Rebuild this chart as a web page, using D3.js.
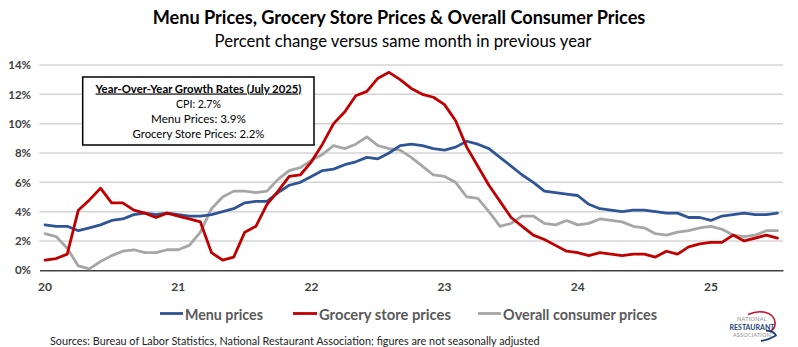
<!DOCTYPE html>
<html>
<head>
<meta charset="utf-8">
<script src="https://cdn.jsdelivr.net/npm/d3@7"></script>
<style>
  html, body { margin: 0; padding: 0; background: #ffffff; }
  svg { display: block; }
  text { font-family: Lato, "Open Sans", "DejaVu Sans", sans-serif; }
</style>
</head>
<body>
<svg id="chart" width="798" height="347"></svg>
<script>
// ---------- DATA (Jan 2020 – Jul 2025, monthly, % change y/y) ----------
const yearLabels = ["20", "21", "22", "23", "24", "25"];
const menuPrices = [
  3.1, 3.0, 3.0, 2.7, 2.9, 3.1, 3.4, 3.5, 3.8, 3.9, 3.8, 3.9,
  3.8, 3.7, 3.7, 3.8, 4.0, 4.2, 4.6, 4.7, 4.7, 5.3, 5.8, 6.0,
  6.4, 6.8, 6.9, 7.2, 7.4, 7.7, 7.6, 8.0, 8.5, 8.6, 8.5, 8.3,
  8.2, 8.4, 8.8, 8.6, 8.3, 7.7, 7.1, 6.5, 6.0, 5.4, 5.3, 5.2,
  5.1, 4.5, 4.2, 4.1, 4.0, 4.1, 4.1, 4.0, 3.9, 3.9, 3.6, 3.6,
  3.4, 3.7, 3.8, 3.9, 3.8, 3.8, 3.9
];
const groceryPrices = [
  0.7, 0.8, 1.1, 4.1, 4.8, 5.6, 4.6, 4.6, 4.1, 3.9, 3.6, 3.9,
  3.7, 3.5, 3.3, 1.2, 0.7, 0.9, 2.6, 3.0, 4.5, 5.4, 6.4, 6.5,
  7.4, 8.6, 10.0, 10.8, 11.9, 12.2, 13.1, 13.5, 13.0, 12.4, 12.0, 11.8,
  11.3, 10.2, 8.4, 7.1, 5.8, 4.7, 3.6, 3.0, 2.4, 2.1, 1.7, 1.3,
  1.2, 1.0, 1.2, 1.1, 1.0, 1.1, 1.1, 0.9, 1.3, 1.1, 1.6, 1.8,
  1.9, 1.9, 2.4, 2.0, 2.2, 2.4, 2.2
];
const consumerPrices = [
  2.5, 2.3, 1.5, 0.3, 0.1, 0.6, 1.0, 1.3, 1.4, 1.2, 1.2, 1.4,
  1.4, 1.7, 2.6, 4.2, 5.0, 5.4, 5.4, 5.3, 5.4, 6.2, 6.8, 7.0,
  7.5, 7.9, 8.5, 8.3, 8.6, 9.1, 8.5, 8.3, 8.2, 7.7, 7.1, 6.5,
  6.4, 6.0, 5.0, 4.9, 4.0, 3.0, 3.2, 3.7, 3.7, 3.2, 3.1, 3.4,
  3.1, 3.2, 3.5, 3.4, 3.3, 3.0, 2.9, 2.5, 2.4, 2.6, 2.7, 2.9,
  3.0, 2.8, 2.4, 2.3, 2.4, 2.7, 2.7
];
const yTicks = [0, 2, 4, 6, 8, 10, 12, 14];
const seriesNames = ["Menu prices", "Grocery store prices", "Overall consumer prices"];
const seriesColors = ["#2E5597", "#C00000", "#A6A6A6"];
const boxTitle = "Year-Over-Year Growth Rates (July 2025)";
const boxLines = ["CPI: 2.7%", "Menu Prices: 3.9%", "Grocery Store Prices: 2.2%"];

// ---------- LAYOUT ----------
const svg = d3.select("#chart");
const plotLeft = 39.5, plotRight = 783;
const n = menuPrices.length;
const x = d3.scaleBand().domain(d3.range(n)).range([plotLeft, plotRight]).paddingInner(0).paddingOuter(0);
const xc = i => x(i) + x.bandwidth() / 2;
const y = d3.scaleLinear().domain([0, 14]).range([270.3, 65]);

function fit(sel, w) {
  const node = sel.node();
  const fs = parseFloat(sel.attr("font-size"));
  const cur = node.getComputedTextLength();
  sel.attr("font-size", (fs * w / cur).toFixed(2));
}

// title
const t1 = svg.append("text").attr("x", 399).attr("y", 24).attr("text-anchor", "middle")
  .attr("font-size", 19).attr("font-weight", "bold").attr("fill", "#000")
  .text("Menu Prices, Grocery Store Prices & Overall Consumer Prices");
fit(t1, 493);
const t2 = svg.append("text").attr("x", 403).attr("y", 47).attr("text-anchor", "middle")
  .attr("font-size", 16).attr("fill", "#000")
  .text("Percent change versus same month in previous year");
fit(t2, 377);

// gridlines
svg.append("g").selectAll("line").data(yTicks.filter(d => d > 0)).join("line")
  .attr("x1", plotLeft).attr("x2", plotRight)
  .attr("y1", d => y(d)).attr("y2", d => y(d))
  .attr("stroke", "#D4D4D4").attr("stroke-width", 1.5);

// y axis labels
const yAxis = d3.axisLeft(y).tickValues(yTicks).tickFormat(d => d + "%").tickSize(0).tickPadding(0);
const gy = svg.append("g").attr("transform", "translate(31,0)").call(yAxis);
gy.select(".domain").remove();
gy.selectAll("text").attr("font-size", 11.5).attr("font-weight", "bold").attr("fill", "#404040")
  .attr("font-family", "Lato, sans-serif");

// x axis
const xAxis = d3.axisBottom(x).tickValues(d3.range(0, n, 12))
  .tickFormat(i => yearLabels[i / 12]).tickSize(0).tickPadding(12);
const gx = svg.append("g").attr("transform", `translate(0,${y(0)})`).call(xAxis);
gx.select(".domain").attr("stroke", "#404040").attr("stroke-width", 1.5);
gx.selectAll("text").attr("font-size", 12).attr("font-weight", "bold").attr("fill", "#404040")
  .attr("font-family", "Lato, sans-serif");

// lines
const allSeries = [consumerPrices, menuPrices, groceryPrices];
const allColors = [seriesColors[2], seriesColors[0], seriesColors[1]];
const line = d3.line().x((d, i) => xc(i)).y(d => y(d));
svg.append("g").selectAll("path").data(allSeries).join("path")
  .attr("d", line).attr("fill", "none")
  .attr("stroke", (d, i) => allColors[i]).attr("stroke-width", 2.8)
  .attr("stroke-linejoin", "round").attr("stroke-linecap", "round");

// annotation box
const box = svg.append("g");
box.append("rect").attr("x", 82.7).attr("y", 77).attr("width", 231.3).attr("height", 68)
  .attr("fill", "#fff").attr("stroke", "#000").attr("stroke-width", 1.5);
const bt = box.append("text").attr("x", 198.5).attr("y", 92.5).attr("text-anchor", "middle")
  .attr("font-size", 12.5).attr("font-weight", "bold").attr("fill", "#000")
  .attr("text-decoration", "underline").text(boxTitle);
fit(bt, 206);
const lineWidths = [45, 95, 132];
box.selectAll("text.l").data(boxLines).join("text").attr("class", "l")
  .attr("x", 198.5).attr("y", (d, i) => 107.5 + i * 15).attr("text-anchor", "middle")
  .attr("font-size", 12.5).attr("fill", "#000").text(d => d)
  .each(function(d, i) { fit(d3.select(this), lineWidths[i]); });

// legend
const legendItems = [
  { name: seriesNames[0], color: seriesColors[0], x1: 160, x2: 183, tw: 78 },
  { name: seriesNames[1], color: seriesColors[1], x1: 293, x2: 317, tw: 132 },
  { name: seriesNames[2], color: seriesColors[2], x1: 478, x2: 501, tw: 154 }
];
const lg = svg.append("g");
legendItems.forEach(it => {
  lg.append("line").attr("x1", it.x1).attr("x2", it.x2).attr("y1", 313.5).attr("y2", 313.5)
    .attr("stroke", it.color).attr("stroke-width", 2.8);
  const t = lg.append("text").attr("x", it.x2 + 2).attr("y", 319.5)
    .attr("font-size", 17).attr("font-weight", "bold").attr("fill", "#595959").text(it.name);
  fit(t, it.tw);
});

// sources
const src = svg.append("text").attr("x", 50).attr("y", 344.5).attr("font-size", 12).attr("fill", "#222")
  .text("Sources: Bureau of Labor Statistics, National Restaurant Association; figures are not seasonally adjusted");
fit(src, 490);

// logo
const logo = svg.append("g");
logo.append("path").attr("d", "M748,314.5 C760,309 774,312 775,322 C775.5,327 773,330 770,331")
  .attr("fill", "none").attr("stroke", "#C8102E").attr("stroke-width", 1.6);
logo.append("path").attr("d", "M766,330.5 C771,331 775,333 776,335.5 C772,338 767,340 761,341")
  .attr("fill", "none").attr("stroke", "#1F3F7A").attr("stroke-width", 1.8);
logo.append("text").attr("x", 752).attr("y", 320.5).attr("text-anchor", "middle")
  .attr("font-size", 5.5).attr("fill", "#8a8a8a").attr("letter-spacing", 0.3).text("NATIONAL");
const r = logo.append("text").attr("x", 752).attr("y", 329.5).attr("text-anchor", "middle")
  .attr("font-size", 8).attr("font-weight", "bold").attr("fill", "#1F3F7A").text("RESTAURANT");
fit(r, 45);
logo.append("text").attr("x", 752).attr("y", 337).attr("text-anchor", "middle")
  .attr("font-size", 5.5).attr("fill", "#8a8a8a").attr("letter-spacing", 0.2).text("ASSOCIATION");
</script>
</body>
</html>
